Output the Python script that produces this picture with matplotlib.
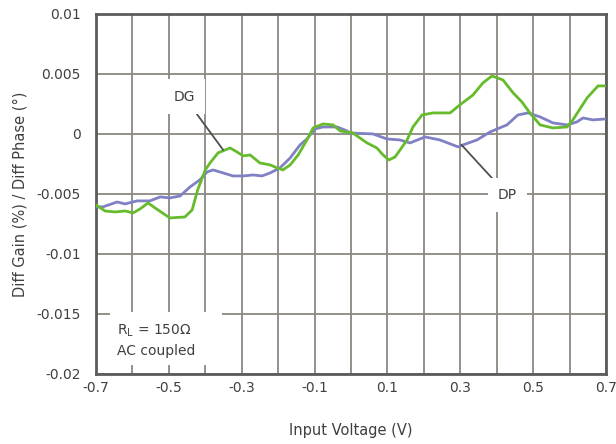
import matplotlib

matplotlib.use("Agg")
import matplotlib.pyplot as plt
from matplotlib.patches import Rectangle
import numpy as np

# differential gain (DG) trace
dg_v = [-0.700, -0.675, -0.648, -0.620, -0.598, -0.579, -0.557, -0.530, -0.497,
        -0.456, -0.436, -0.421, -0.400, -0.387, -0.365, -0.332, -0.313, -0.296,
        -0.277, -0.250, -0.222, -0.203, -0.187, -0.167, -0.145, -0.121, -0.104,
        -0.077, -0.049, -0.030, 0.005, 0.044, 0.071, 0.088, 0.104, 0.121, 0.154,
        0.170, 0.195, 0.225, 0.272, 0.299, 0.335, 0.362, 0.387, 0.417, 0.445,
        0.469, 0.491, 0.519, 0.554, 0.593, 0.609, 0.648, 0.678, 0.700]
dg = [-0.00592, -0.00642, -0.00650, -0.00642, -0.00658, -0.00625, -0.00575,
      -0.00633, -0.00700, -0.00692, -0.00633, -0.00467, -0.00300, -0.00242,
      -0.00158, -0.00117, -0.00150, -0.00183, -0.00175, -0.00242, -0.00258,
      -0.00283, -0.00300, -0.00258, -0.00175, -0.00050, 0.00050, 0.00083,
      0.00075, 0.00025, 0.00008, -0.00075, -0.00117, -0.00175, -0.00217,
      -0.00192, -0.00050, 0.00058, 0.00158, 0.00175, 0.00175, 0.00242, 0.00325,
      0.00425, 0.00483, 0.00450, 0.00342, 0.00267, 0.00175, 0.00075, 0.00050,
      0.00058, 0.00117, 0.00300, 0.00400, 0.00400]

# differential phase (DP) trace
dp_v = [-0.700, -0.681, -0.642, -0.620, -0.587, -0.552, -0.524, -0.497, -0.469,
        -0.442, -0.415, -0.395, -0.379, -0.351, -0.324, -0.296, -0.269, -0.244,
        -0.222, -0.195, -0.167, -0.140, -0.121, -0.099, -0.077, -0.038, -0.011,
        -0.003, 0.060, 0.099, 0.134, 0.162, 0.203, 0.244, 0.294, 0.307, 0.346,
        0.382, 0.428, 0.458, 0.486, 0.519, 0.554, 0.593, 0.620, 0.637, 0.664,
        0.700]
dp = [-0.00608, -0.00608, -0.00567, -0.00583, -0.00558, -0.00558, -0.00525,
      -0.00533, -0.00517, -0.00442, -0.00383, -0.00317, -0.00300, -0.00325,
      -0.00350, -0.00350, -0.00342, -0.00350, -0.00325, -0.00283, -0.00200,
      -0.00092, -0.00042, 0.00042, 0.00058, 0.00058, 0.00025, 0.00008, 0.00000,
      -0.00042, -0.00050, -0.00075, -0.00025, -0.00050, -0.00108, -0.00092,
      -0.00050, 0.00017, 0.00075, 0.00158, 0.00175, 0.00142, 0.00092, 0.00075,
      0.00100, 0.00133, 0.00117, 0.00125]

x_ticks = [-0.7, -0.5, -0.3, -0.1, 0.1, 0.3, 0.5, 0.7]
x_tick_labels = ["-0.7", "-0.5", "-0.3", "-0.1", "0.1", "0.3", "0.5", "0.7"]
y_ticks = [-0.02, -0.015, -0.01, -0.005, 0, 0.005, 0.01]
y_tick_labels = ["-0.02", "-0.015", "-0.01", "-0.005", "0", "0.005", "0.01"]

text_color = "#404040"
grid_color = "#8a8880"

fig = plt.figure(figsize=(6.16, 4.44), dpi=100)
ax = fig.add_axes([0.1558, 0.1577, 0.828, 0.811])

ax.set_xlim(-0.7, 0.7)
ax.set_ylim(-0.02, 0.01)
ax.set_xticks(np.arange(-0.7, 0.71, 0.1), minor=True)
ax.set_xticks(x_ticks)
ax.set_xticklabels(x_tick_labels)
ax.set_yticks(y_ticks)
ax.set_yticklabels(y_tick_labels)
ax.grid(True, which="both", color=grid_color, linewidth=1.3)
ax.set_axisbelow(True)
ax.tick_params(which="both", length=0, labelsize=10, colors=text_color)
ax.tick_params(axis="x", pad=5)
ax.tick_params(axis="y", pad=11)
for spine in ax.spines.values():
    spine.set_color("#5c5c5c")
    spine.set_linewidth(2.0)

ax.plot(dp_v, dp, color="#8080c4", linewidth=2.0, zorder=3)
ax.plot(dg_v, dg, color="#66bb2c", linewidth=2.0, zorder=4)

line_props = dict(arrowstyle="-", color="#505050", lw=1.3, shrinkA=0, shrinkB=0)
ax.annotate("DG", xy=(-0.351, -0.00133), xytext=(-0.458, 0.0031),
            fontsize=10, color=text_color, ha="center", va="center",
            bbox=dict(boxstyle="square,pad=0.75", facecolor="white", edgecolor="none"),
            arrowprops=line_props, zorder=5)
ax.annotate("DP", xy=(0.303, -0.0009), xytext=(0.43, -0.0051),
            fontsize=10, color=text_color, ha="center", va="center",
            bbox=dict(boxstyle="square,pad=0.7", facecolor="white", edgecolor="none"),
            arrowprops=line_props, zorder=5)

# white panel behind the test-condition note
ax.add_patch(Rectangle((-0.6616, -0.01925), 0.3076, 0.00445, facecolor="white",
                       edgecolor="none", zorder=2))
ax.text(-0.642, -0.0172, "R$_\\mathregular{L}$ = 150Ω\nAC coupled", fontsize=10,
        color=text_color, ha="left", va="center", linespacing=1.4, zorder=5)

ax.set_xlabel("Input Voltage (V)", fontsize=10.5, color=text_color, labelpad=20)
ax.set_ylabel("Diff Gain (%) / Diff Phase (°)", fontsize=10.5, color=text_color,
              labelpad=6)

fig.savefig("out.png", dpi=100)
plt.close(fig)
